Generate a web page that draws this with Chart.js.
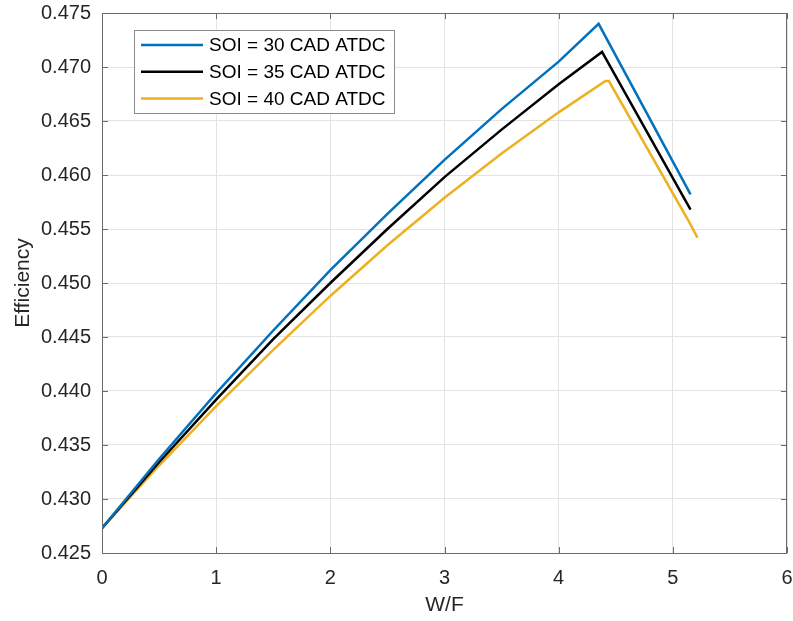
<!DOCTYPE html>
<html>
<head>
<meta charset="utf-8">
<script src="https://cdn.jsdelivr.net/npm/chart.js@4.4.1/dist/chart.umd.min.js"></script>
<style>
  html, body { margin: 0; padding: 0; background: #fff; }
  canvas { display: block; }
</style>
</head>
<body>
<canvas id="myChart" width="793" height="621"></canvas>
<script>
// series labels and colours
const seriesLabels = ['SOI = 30 CAD ATDC', 'SOI = 35 CAD ATDC', 'SOI = 40 CAD ATDC'];
const seriesColors = ['#0072BD', '#000000', '#EDB120'];

// W/F values and efficiency
const wf30 = [0, 0.5, 1, 1.5, 2, 2.5, 3, 3.5, 4, 4.35, 5.155];
const eff30 = [0.4273, 0.4337, 0.4398, 0.4456, 0.4512, 0.4564, 0.4614, 0.4661, 0.4705, 0.4740, 0.4582];

const wf35 = [0, 0.5, 1, 1.5, 2, 2.5, 3, 3.5, 4, 4.38, 5.155];
const eff35 = [0.4273, 0.4334, 0.4392, 0.4448, 0.4500, 0.4550, 0.4598, 0.4642, 0.4684, 0.4714, 0.4568];

const wf40 = [0, 0.5, 1, 1.5, 2, 2.5, 3, 3.5, 4, 4.41, 4.44, 5.13, 5.216];
const eff40 = [0.4273, 0.4331, 0.4386, 0.4438, 0.4488, 0.4535, 0.4579, 0.4620, 0.4658, 0.4687, 0.4687, 0.4559, 0.4542];

// axis ranges / ticks
const xTicks = [0, 1, 2, 3, 4, 5, 6];
const yMin = 0.425, yMax = 0.475, yStep = 0.005;

const toPoints = (xs, ys) => xs.map((x, i) => ({x: x, y: ys[i]}));
const allX = [wf30, wf35, wf40];
const allY = [eff30, eff35, eff40];

const axisColor = '#6b6b6b';
const textColor = '#262626';

// box round the plot, inward ticks, legend in the upper left
const matlabLook = {
    id: 'matlabLook',
    afterDatasetsDraw(chart) {
        const {ctx, chartArea: a, scales} = chart;
        ctx.save();
        ctx.strokeStyle = axisColor;
        ctx.lineWidth = 1;
        ctx.strokeRect(a.left + 0.5, a.top + 0.5, a.right - a.left - 1, a.bottom - a.top);
        const tl = 6;
        ctx.beginPath();
        scales.x.ticks.forEach(t => {
            const px = Math.round(scales.x.getPixelForValue(t.value)) + 0.5;
            ctx.moveTo(px, a.bottom); ctx.lineTo(px, a.bottom - tl);
            ctx.moveTo(px, a.top); ctx.lineTo(px, a.top + tl);
        });
        scales.y.ticks.forEach(t => {
            const py = Math.round(scales.y.getPixelForValue(t.value)) + 0.5;
            ctx.moveTo(a.left, py); ctx.lineTo(a.left + tl, py);
            ctx.moveTo(a.right, py); ctx.lineTo(a.right - tl, py);
        });
        ctx.stroke();

        // legend
        const bx = a.left + 32, by = a.top + 17, bw = 260, bh = 83;
        ctx.fillStyle = '#fff';
        ctx.fillRect(bx, by, bw, bh);
        ctx.strokeStyle = '#8a8a8a';
        ctx.strokeRect(bx + 0.5, by + 0.5, bw, bh);
        ctx.font = '19px "Liberation Sans", Arial, sans-serif';
        ctx.textBaseline = 'middle';
        ctx.textAlign = 'left';
        chart.data.datasets.forEach((ds, i) => {
            const cy = by + 15 + i * 26.7;
            ctx.strokeStyle = ds.borderColor;
            ctx.lineWidth = 2.5;
            ctx.beginPath();
            ctx.moveTo(bx + 7, cy); ctx.lineTo(bx + 69, cy);
            ctx.stroke();
            ctx.fillStyle = '#000';
            ctx.fillText(ds.label, bx + 75, cy + 1);
        });
        ctx.restore();
    }
};

new Chart(document.getElementById('myChart'), {
    type: 'line',
    data: {
        datasets: seriesLabels.map((lab, i) => ({
            label: lab,
            data: toPoints(allX[i], allY[i]),
            borderColor: seriesColors[i],
            backgroundColor: seriesColors[i],
            borderWidth: 2.5,
            pointRadius: 0,
            tension: 0,
            fill: false
        }))
    },
    options: {
        responsive: false,
        animation: false,
        layout: { padding: { left: 0, top: 13, right: 6, bottom: 0 } },
        plugins: {
            legend: { display: false },
            tooltip: { enabled: false }
        },
        scales: {
            x: {
                type: 'linear',
                min: 0,
                max: 6,
                afterBuildTicks: (scale) => { scale.ticks = xTicks.map(v => ({value: v})); },
                afterFit: (scale) => { scale.height = 68; scale.paddingRight = 0; scale.paddingLeft = 0; },
                grid: { color: '#e3e3e3', drawTicks: false },
                border: { display: false },
                ticks: {
                    padding: 13,
                    color: textColor,
                    font: { family: '"Liberation Sans", Arial, sans-serif', size: 20 },
                    callback: (v) => String(v)
                },
                title: {
                    display: true,
                    text: 'W/F',
                    color: textColor,
                    font: { family: '"Liberation Sans", Arial, sans-serif', size: 21 },
                    padding: { top: 0, bottom: 3 }
                }
            },
            y: {
                type: 'linear',
                min: yMin,
                max: yMax,
                afterFit: (scale) => { scale.width = 102; scale.paddingTop = 0; scale.paddingBottom = 0; },
                grid: { color: '#e3e3e3', drawTicks: false },
                border: { display: false },
                ticks: {
                    stepSize: yStep,
                    padding: 11,
                    color: textColor,
                    font: { family: '"Liberation Sans", Arial, sans-serif', size: 20 },
                    callback: (v) => v.toFixed(3)
                },
                title: {
                    display: true,
                    text: 'Efficiency',
                    color: textColor,
                    font: { family: '"Liberation Sans", Arial, sans-serif', size: 21 },
                    padding: { top: 11, bottom: 0 }
                }
            }
        }
    },
    plugins: [matlabLook]
});
</script>
</body>
</html>
